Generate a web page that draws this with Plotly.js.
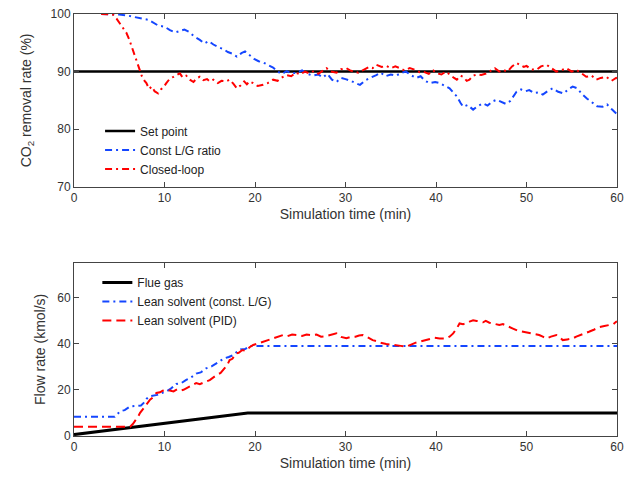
<!DOCTYPE html>
<html>
<head>
<meta charset="utf-8">
<script src="https://cdn.plot.ly/plotly-3.0.1.min.js"></script>
<style>html,body{margin:0;padding:0;background:#fff;}#chart{width:632px;height:477px;}</style>
</head>
<body>
<div id="chart"></div>
<script>
// ---------- Top panel: CO2 removal rate (%) ----------
const setT = [0, 60];
const setV = [90, 90];

const lgT = [3.0,4.0,5.0,6.0,6.8,7.5,8.2,8.8,9.3,10.0,10.6,11.2,11.7,12.2,12.7,13.3,13.9,14.4,14.9,15.4,16.0,16.5,17.0,17.5,18.0,18.5,18.9,19.4,19.9,20.4,20.9,21.5,22.0,22.5,23.0,23.5,24.0,24.6,25.2,25.8,26.4,27.0,27.5,28.0,28.5,29.0,29.5,30.0,30.6,31.1,31.6,32.2,32.8,33.4,33.9,34.4,35.0,35.6,36.2,36.7,37.2,37.8,38.3,38.8,39.3,39.9,40.4,41.0,41.5,42.0,42.3,42.7,43.0,43.5,44.1,44.6,45.2,45.7,46.2,46.7,47.2,47.7,48.2,48.6,48.9,49.4,49.9,50.3,50.8,51.3,51.8,52.4,52.9,53.5,54.1,54.6,55.1,55.6,56.2,56.7,57.3,57.8,58.4,58.9,59.4,60.0];
const lgV = [100,100,99.9,99.7,99.5,99.2,99.0,98.4,98.0,97.8,97.2,96.8,97.0,97.3,96.9,96.1,95.5,94.9,95.3,94.7,94.2,93.9,93.4,93.1,92.6,93.2,93.5,92.8,92.2,91.8,91.6,91.1,90.7,90.0,89.6,90.1,89.7,89.8,90.2,89.6,89.3,89.5,89.0,89.6,88.6,88.2,88.9,88.7,88.4,88.0,87.7,88.5,88.9,89.4,89.8,89.2,89.5,89.3,89.8,90.0,89.4,88.9,89.2,88.4,88.0,88.2,88.0,87.5,87.1,86.2,85.7,84.6,83.9,84.2,83.4,84.0,84.5,84.1,84.8,85.1,84.7,84.4,84.9,85.9,86.5,86.9,86.6,86.8,86.3,86.4,86.0,86.7,87.1,86.5,86.2,86.9,87.4,87.1,86.0,85.3,84.5,84.0,83.9,84.3,83.5,82.6];

const clT = [3.0,3.8,4.3,4.7,5.1,5.5,5.8,6.1,6.4,6.7,6.9,7.1,7.3,7.5,7.8,8.0,8.3,8.6,8.9,9.3,9.6,9.9,10.2,10.6,11.0,11.4,11.7,12.0,12.4,12.8,13.2,13.6,13.9,14.3,14.7,15.0,15.4,15.9,16.3,16.8,17.2,17.6,18.0,18.4,18.8,19.1,19.4,19.8,20.3,20.9,21.4,22.0,22.5,23.0,23.5,24.0,24.5,25.0,25.5,26.0,26.5,27.0,27.5,27.9,28.4,29.0,29.5,30.1,30.5,30.9,31.4,32.0,32.6,33.0,33.4,34.0,34.5,35.0,35.5,36.0,36.5,37.1,37.7,38.2,38.6,39.2,39.7,40.1,40.6,41.1,41.6,42.0,42.3,42.7,43.0,43.4,43.7,44.1,44.5,45.0,45.6,46.1,46.5,47.0,47.4,47.9,48.4,48.9,49.3,49.7,50.0,50.5,51.1,51.6,52.2,52.7,53.3,53.8,54.4,55.0,55.5,56.0,56.6,57.2,57.7,58.2,58.8,59.4,59.9,60.0];
const clV = [100,100,99.9,99.2,98.3,97.4,96.7,95.6,94.3,93.0,92.0,91.0,90.3,89.2,88.4,88.0,87.0,87.4,86.6,86.2,86.9,87.3,88.0,88.8,89.1,89.4,89.7,89.0,89.3,88.6,88.2,88.9,89.1,88.5,88.7,88.3,88.6,88.0,88.4,88.3,88.6,87.9,87.1,87.6,88.3,87.8,88.3,88.0,87.5,87.7,88.0,88.6,88.4,89.0,89.4,89.2,89.8,89.5,90.0,89.7,90.1,89.6,90.2,90.6,90.0,89.8,90.4,90.6,90.2,90.0,89.8,90.3,90.8,90.6,91.2,90.8,91.0,90.6,90.9,90.6,90.2,90.6,90.3,89.9,90.0,89.6,90.2,89.7,89.5,90.0,89.3,88.9,88.6,89.3,89.1,88.4,88.6,89.3,89.5,89.4,89.7,90.2,90.6,90.0,90.3,90.0,90.9,91.5,91.2,90.8,91.0,90.4,90.3,90.9,91.2,90.6,90.0,90.2,90.6,90.0,90.3,89.8,89.1,89.3,88.6,88.9,89.1,88.4,88.9,88.8];

// ---------- Bottom panel: Flow rate (kmol/s) ----------
const fgT = [0, 19.2, 60];
const fgV = [0.6, 10, 10];

const lsT = [0,4.5,5.1,5.6,6.2,6.8,7.4,7.7,8.0,8.3,8.8,9.2,9.7,10.2,10.7,11.3,11.9,12.4,12.9,13.5,14.0,14.6,15.2,15.8,16.2,16.6,17.1,17.6,18.0,18.4,18.9,19.4,60];
const lsV = [8.3,8.3,10.7,11.2,12.8,13.0,13.2,14.3,16.0,17.1,17.5,17.8,18.6,19.3,20.5,22.5,23.0,24.3,25.2,27.0,27.5,29.3,30.1,31.5,32.6,33.6,34.2,35.0,36.4,37.4,37.6,38.9,38.9];

const pidT = [0,6.2,6.5,6.8,7.1,7.3,7.6,7.8,8.1,8.4,8.7,9.1,9.5,9.8,10.2,10.6,11.0,11.4,11.8,12.1,12.5,12.8,13.2,13.5,13.9,14.2,14.6,15.0,15.4,15.8,16.2,16.5,16.9,17.2,17.5,17.9,18.2,18.6,19.0,19.4,19.8,20.3,20.9,21.4,22.0,22.5,23.1,23.6,24.1,24.6,25.2,25.7,26.3,26.8,27.3,27.8,28.4,29.0,29.5,30.1,30.6,31.1,31.5,31.9,32.4,33.0,33.5,34.0,34.5,35.0,35.6,36.1,36.7,37.2,37.7,38.2,38.8,39.3,39.8,40.4,41.1,41.5,41.9,42.3,42.6,43.0,43.3,43.7,44.1,44.5,44.8,45.2,45.5,45.9,46.3,46.7,47.0,47.4,47.7,48.1,48.5,49.0,49.6,50.0,50.3,50.8,51.4,51.8,52.2,52.7,53.3,53.7,54.0,54.5,55.1,55.5,55.9,56.4,56.9,57.5,58.1,58.6,59.2,59.6,59.9,60.0];
const pidV = [4.0,4.0,5.2,6.6,8.5,10.0,11.5,12.8,14.0,15.7,16.6,18.6,18.9,19.6,20.0,19.5,19.3,20.2,19.7,20.0,20.8,21.4,22.0,22.9,22.4,23.0,23.6,24.2,25.5,26.5,27.3,28.6,30.5,32.9,33.4,35.8,36.0,37.2,36.8,38.4,39.4,40.0,40.8,41.4,42.2,42.6,43.7,43.2,43.9,43.7,43.3,43.9,43.6,43.9,43.0,43.2,43.7,44.4,42.9,42.3,42.9,43.0,43.5,43.7,42.8,41.5,41.0,40.2,39.8,39.6,39.4,39.0,38.6,39.5,40.3,40.8,41.5,42.2,42.5,42.2,42.2,43.0,44.4,46.6,48.7,48.4,48.7,49.5,50.1,49.8,49.4,49.2,49.8,49.0,48.7,48.2,48.0,48.4,47.8,47.2,46.5,45.6,45.1,44.8,44.4,44.0,43.7,43.0,42.2,43.0,43.7,42.6,41.5,41.8,42.2,43.0,43.7,44.4,45.1,46.1,47.2,47.6,48.0,48.4,49.4,49.6];

const xTicks = [0,10,20,30,40,50,60];
const topTicks = [70,80,90,100];
const botTicks = [0,20,40,60];

const BLUE = 'rgb(20,70,255)';
const RED = 'rgb(255,0,0)';
const DASHDOT = '7px,4px,2px,4px';
const DASH = '9px,5px';

const traces = [
  {x:setT, y:setV, xaxis:'x', yaxis:'y', name:'Set point', mode:'lines', line:{color:'#000', width:2.5}, legend:'legend'},
  {x:lgT, y:lgV, xaxis:'x', yaxis:'y', name:'Const L/G ratio', mode:'lines', line:{color:BLUE, width:2, dash:DASHDOT}, legend:'legend'},
  {x:clT, y:clV, xaxis:'x', yaxis:'y', name:'Closed-loop', mode:'lines', line:{color:RED, width:2, dash:DASHDOT}, legend:'legend'},
  {x:fgT, y:fgV, xaxis:'x2', yaxis:'y2', name:'Flue gas', mode:'lines', line:{color:'#000', width:3}, legend:'legend2'},
  {x:lsT, y:lsV, xaxis:'x2', yaxis:'y2', name:'Lean solvent (const. L/G)', mode:'lines', line:{color:BLUE, width:2, dash:DASHDOT}, legend:'legend2'},
  {x:pidT, y:pidV, xaxis:'x2', yaxis:'y2', name:'Lean solvent (PID)', mode:'lines', line:{color:RED, width:2, dash:DASH}, legend:'legend2'}
];

const axFont = {family:'Liberation Sans, Arial, sans-serif', size:12, color:'#333'};
const titleFont = {family:'Liberation Sans, Arial, sans-serif', size:14, color:'#333'};
function xax(anchor){
  return {anchor:anchor, range:[0,60], tickvals:xTicks, ticks:'inside', ticklen:5, tickcolor:'#444',
    showline:true, linecolor:'#444', linewidth:1, mirror:'ticks', showgrid:false, zeroline:false,
    tickfont:axFont, title:{text:'Simulation time (min)', font:titleFont, standoff:4}};
}
function yax(anchor, dom, rng, tv, title, so){
  return {anchor:anchor, domain:dom, range:rng, tickvals:tv, ticks:'inside', ticklen:5, tickcolor:'#444',
    showline:true, linecolor:'#444', linewidth:1, mirror:'ticks', showgrid:false, zeroline:false,
    tickfont:axFont, title:{text:title, font:titleFont, standoff:so}};
}

const layout = {
  width:632, height:477,
  margin:{l:74, r:14.5, t:14, b:40.5},
  paper_bgcolor:'#fff', plot_bgcolor:'#fff',
  showlegend:true,
  xaxis: xax('y'),
  yaxis: yax('x', [0.5905, 1], [70,100], topTicks, 'CO<sub>2</sub> removal rate (%)', 15),
  xaxis2: xax('y2'),
  yaxis2: yax('x2', [0, 0.4107], [0,75], botTicks, 'Flow rate (kmol/s)', 8),
  legend: {x:0.048, y:0.757, xanchor:'left', yanchor:'top', bgcolor:'rgba(0,0,0,0)', borderwidth:0,
    font:{family:'Liberation Sans, Arial, sans-serif', size:12, color:'#222'}, tracegroupgap:0},
  legend2: {x:0.043, y:0.398, xanchor:'left', yanchor:'top', bgcolor:'rgba(0,0,0,0)', borderwidth:0,
    font:{family:'Liberation Sans, Arial, sans-serif', size:12, color:'#222'}, tracegroupgap:0}
};

Plotly.newPlot('chart', traces, layout, {staticPlot:true, displayModeBar:false});
</script>
</body>
</html>
